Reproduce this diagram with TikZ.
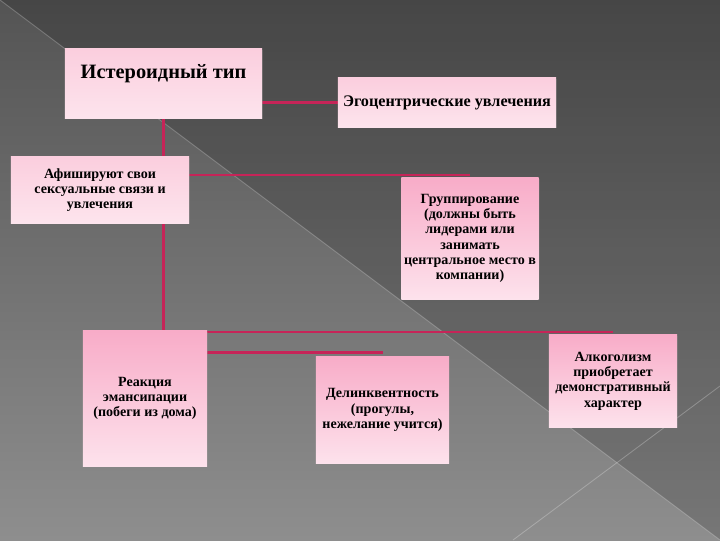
\documentclass[tikz,border=0pt]{standalone}
\usepackage{fontspec}
\setmainfont{Liberation Serif}
\usetikzlibrary{shadows,backgrounds}

\definecolor{linkred}{RGB}{198,36,88}
\definecolor{pinktop}{RGB}{248,172,200}
\definecolor{pinkbot}{RGB}{253,226,236}
\definecolor{palepink}{RGB}{251,206,222}
\definecolor{palebot}{RGB}{253,228,237}
\definecolor{slidedark}{RGB}{84,84,84}
\definecolor{slidelight}{RGB}{142,142,142}

\tikzset{
  card/.style={top color=pinktop, bottom color=pinkbot, align=center, inner sep=2pt,
    text=black, font=\bfseries\fontsize{10}{10.9}\selectfont,
    drop shadow={opacity=0.35, shadow xshift=0.8pt, shadow yshift=-0.8pt}},
  palecard/.style={card, top color=palepink, bottom color=palebot},
  link/.style={draw=linkred, line width=1.5pt}
}

\begin{document}
\begin{tikzpicture}[x=0.025cm, y=-0.025cm]
\useasboundingbox (0,0) rectangle (720,540);

% Slide background
\begin{scope}[on background layer]
\shade[top color=slidedark, bottom color=slidelight] (0,0) rectangle (720,540);
\fill[black, opacity=0.16] (0,0) -- (720,0) -- (720,540) -- cycle;
\draw[white, opacity=0.25, line width=0.6pt] (0,0) -- (720,540);
\draw[white, opacity=0.25, line width=0.6pt] (513,540) -- (720,386);
\end{scope}

% Boxes
\node[palecard, minimum width=4.925cm, minimum height=1.725cm, text height=11pt, text depth=18pt,
  font=\bfseries\fontsize{14.5}{17}\selectfont] (title) at (163.5,83.5) {Истероидный тип};
\node[palecard, minimum width=5.45cm, minimum height=1.225cm,
  font=\bfseries\fontsize{11.5}{13}\selectfont] (ego) at (447,102.5) {Эгоцентрические увлечения};
\node[palecard, minimum width=4.45cm, minimum height=1.65cm] (show) at (100,190)
  {Афишируют свои\\сексуальные связи и\\увлечения};
\node[card, minimum width=3.4cm, minimum height=3.025cm] (group) at (470,238.5)
  {Группирование\\(должны быть\\лидерами или\\занимать\\центральное место в\\компании)};
\node[card, minimum width=3.1cm, minimum height=3.375cm] (react) at (145,398.5)
  {Реакция\\эмансипации\\(побеги из дома)};
\node[card, minimum width=3.325cm, minimum height=2.65cm] (delinq) at (382.5,410)
  {Делинквентность\\(прогулы,\\нежелание учится)};
\node[card, minimum width=3.2cm, minimum height=2.3cm] (alco) at (613,381)
  {Алкоголизм\\приобретает\\демонстративный\\характер};

% Connector ends just above the boxes
\coordinate (groupTop) at ([yshift=2pt]group.north);
\coordinate (delinqTop) at ([yshift=3pt]delinq.north);
\coordinate (alcoTop) at ([yshift=2pt]alco.north);

% Connectors
\begin{scope}[on background layer]
\draw[link] (title.south) -- (title.south |- react.north);
\draw[link] (title.south |- ego.west) -- (ego.west);
\draw[link] (title.south |- show.north) -- (show.north);
\draw[link] (title.south |- groupTop) -- (groupTop);
\draw[link] (title.south |- alcoTop) -- (alcoTop);
\draw[link] (title.south |- delinqTop) -- (delinqTop);
\end{scope}
\end{tikzpicture}
\end{document}
